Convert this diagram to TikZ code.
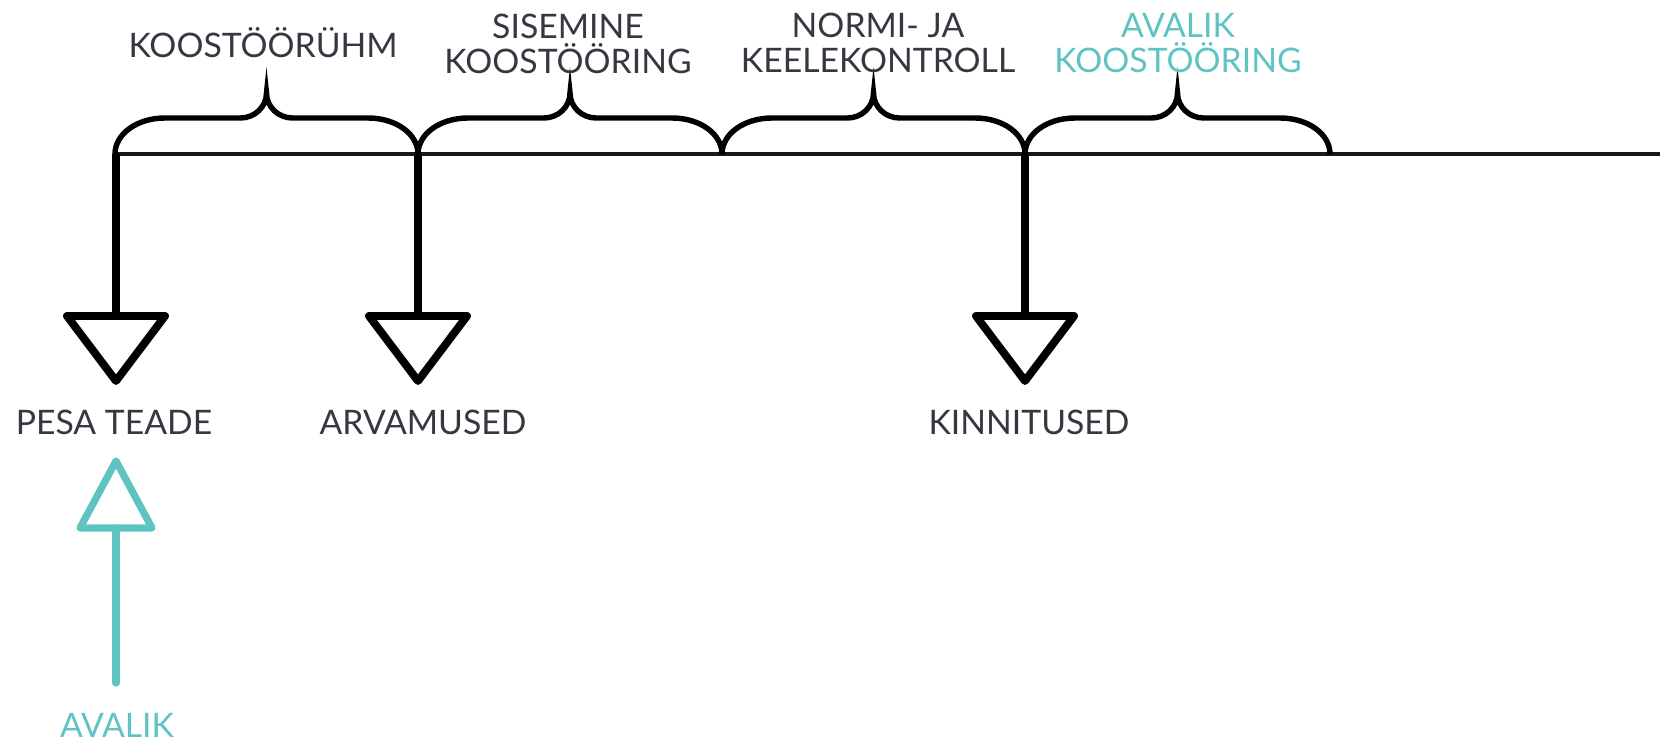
\documentclass[tikz,border=0pt]{standalone}
\usepackage{fontspec}
\setmainfont{Lato}
\usepackage{tikz}
\usetikzlibrary{calc}
\usetikzlibrary{positioning}
\definecolor{ink}{RGB}{55,55,66}
\definecolor{pubc}{RGB}{95,196,193}
\tikzstyle{axis}=[draw=black!90,line width=2.3pt]
\tikzstyle{brc}=[draw=black,line width=3.1pt]
\tikzstyle{drop}=[draw=black,line width=4.5pt,line join=round]
\tikzstyle{pub}=[draw=pubc,line width=4.1pt,line join=round,line cap=round]
\tikzstyle{lbl}=[text=ink,inner sep=0,align=center,font=\fontsize{19.2}{19.8}\selectfont]
\tikzstyle{publbl}=[lbl,text=pubc]
% brace sitting on the axis, from x=#1 to x=#2
\newcommand{\brc}[2]{\draw[brc] (#1,154) .. controls (#1,134) and (#1+22,118) .. (#1+50,118) -- ({(#1+#2)/2-26},118) .. controls ({(#1+#2)/2-12},118) and ({(#1+#2)/2},107) .. ({(#1+#2)/2},93) .. controls ({(#1+#2)/2},107) and ({(#1+#2)/2+12},118) .. ({(#1+#2)/2+26},118) -- (#2-50,118) .. controls (#2-22,118) and (#2,134) .. (#2,154);}
% stem from the axis down to an open triangle, label below it
\newcommand{\drop}[4]{\coordinate (#1t) at (#2,154);\coordinate (#1h) at (#2,316);\node[lbl,anchor=base] (#1) at (#3,435) {#4};\draw[drop] (#1t) -- (#1h);\draw[drop] ($(#1h)+(-49,0)$) -- ($(#1h)+(49,0)$) -- ($(#1h)+(0,65)$) -- cycle;}

\begin{document}
\begin{tikzpicture}[x=0.02cm,y=-0.02cm]
  \useasboundingbox (0,0) rectangle (1660,742);
  \coordinate (a0) at (115,154);
  \coordinate (a1) at (1660,154);
  \draw[axis] (a0) -- (a1);
  \brc{115}{418} \brc{418}{722} \brc{722}{1025} \brc{1025}{1330}
  \node[lbl,anchor=base] (grp) at (263,58) {KOOSTÖÖRÜHM};
  \node[lbl,anchor=north] (int) at (568,14) {SISEMINE\\KOOSTÖÖRING};
  \node[lbl,anchor=north] (norm) at (878,13) {NORMI- JA\\KEELEKONTROLL};
  \node[publbl,anchor=north] (pubk) at (1178,13) {AVALIK\\KOOSTÖÖRING};
  \drop{pesa}{116}{114}{PESA TEADE}
  \drop{arv}{418}{423}{ARVAMUSED}
  \drop{kin}{1025}{1029}{KINNITUSED}
  % public input into the notice
  \node[publbl,anchor=base] (avalik) at (117,738) {AVALIK};
  \coordinate (pubb) at (116,683);
  \coordinate (pubh) at (116,528);
  \draw[pub] (pubb) -- (pubh);
  \draw[pub] ($(pubh)+(-36,0)$) -- ($(pubh)+(36,0)$) -- ($(pubh)+(0,-67)$) -- cycle;
\end{tikzpicture}
\end{document}
